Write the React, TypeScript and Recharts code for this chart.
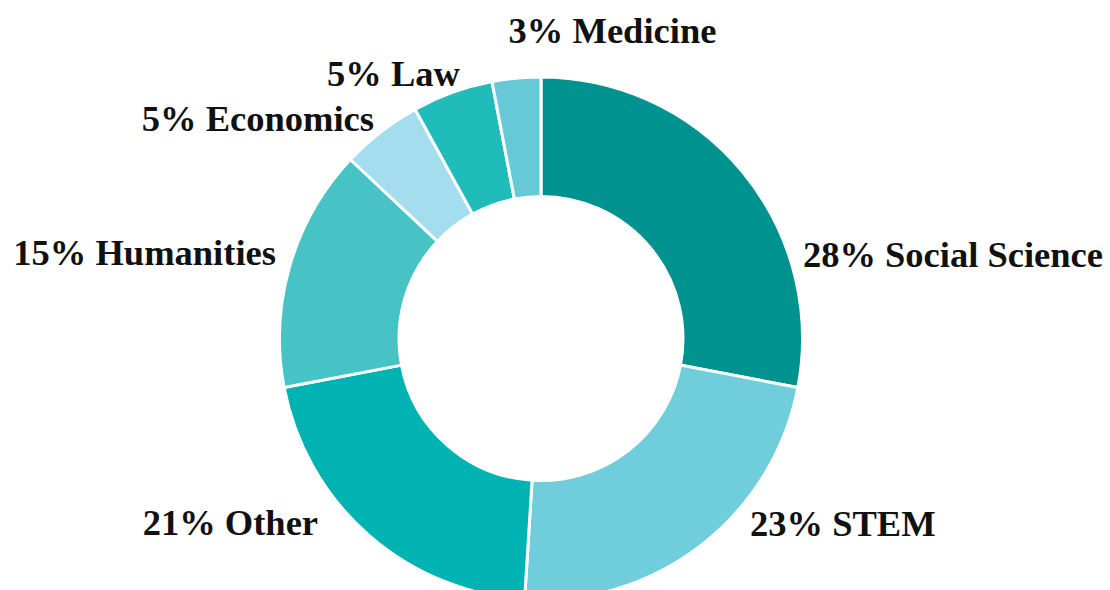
import React from "react";
import { PieChart, Pie, Cell } from "recharts";

const categories = ["Social Science", "STEM", "Other", "Humanities", "Economics", "Law", "Medicine"];
const shares = [28, 23, 21, 15, 5, 5, 3];
const colors = ["#00928E", "#70CDDC", "#00B3B3", "#47C3C6", "#A4DDEE", "#20BCBA", "#67C9D8"];

// label layout nudges (px) relative to the radial anchor point
const labelNudges: [number, number][] = [
  [45, 108],
  [36.5, -25],
  [-36.8, -14.7],
  [5.3, 5],
  [5.5, 14.9],
  [14.3, 12.4],
  [98, -15],
];

const data = categories.map((name, i) => ({ name, value: shares[i] }));

const RAD = Math.PI / 180;

const renderLabel = (props: any) => {
  const { cx, cy, midAngle, outerRadius, index, name, value } = props;
  const r = outerRadius + 20;
  const c = Math.cos(-midAngle * RAD);
  const s = Math.sin(-midAngle * RAD);
  const [dx, dy] = labelNudges[index] || [0, 0];
  const x = cx + r * c + dx;
  const y = cy + r * s + dy;
  const anchor = Math.abs(c) < 0.2 ? "middle" : c > 0 ? "start" : "end";
  return (
    <text
      x={x}
      y={y}
      textAnchor={anchor}
      fill="#111111"
      fontFamily="'Liberation Serif', 'DejaVu Serif', serif"
      fontWeight="bold"
      fontSize={36.5}
    >
      {`${value}% ${name}`}
    </text>
  );
};

export default function App() {
  return (
    <div style={{ position: "absolute", left: 0, top: 0, width: 1110, height: 590, background: "#ffffff" }}>
      <PieChart width={1110} height={590} margin={{ top: 0, right: 0, bottom: 0, left: 0 }}>
        <Pie
          data={data}
          dataKey="value"
          nameKey="name"
          cx={541}
          cy={338.5}
          innerRadius={142}
          outerRadius={261.5}
          startAngle={90}
          endAngle={-270}
          stroke="#ffffff"
          strokeWidth={3}
          label={renderLabel}
          labelLine={false}
          isAnimationActive={false}
        >
          {data.map((d, i) => (
            <Cell key={d.name} fill={colors[i]} />
          ))}
        </Pie>
      </PieChart>
    </div>
  );
}
